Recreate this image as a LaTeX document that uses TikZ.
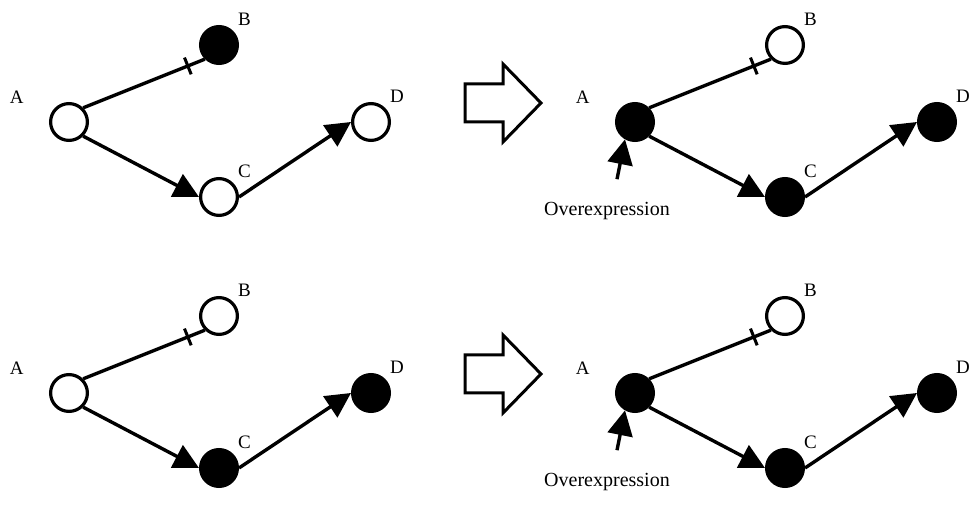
\documentclass[tikz,border=0pt]{standalone}
\usepackage{fontspec}
\setmainfont{Liberation Serif}
\usetikzlibrary{positioning, arrows.meta}
\tikzset{on grid,
         gene/.style={circle, draw, line width=1.6pt, minimum size=18.4pt, inner sep=0pt},
         on/.style={gene, fill=black},
         off/.style={gene, fill=white},
         act/.style={-{Triangle[length=12.5pt, width=12.5pt]}, line width=1.7pt},
         inh/.style={line width=1.7pt},
         bar/.style={draw, sloped, line width=1.5pt, minimum height=9pt, minimum width=0pt, inner sep=0pt},
         every label/.style={font=\fontsize{9.5}{11}\selectfont},
         genename/.style={label={[label distance=10pt]163:#1}},
         genetag/.style={label={[label distance=-1.5pt]45:#1}},
         note/.style={font=\normalsize},
         bigarrow/.style={line width=1.5pt, fill=white, line join=miter},
         }

\begin{document}
\begin{tikzpicture}[x=0.5pt, y=-0.5pt]
    \useasboundingbox (0,0) rectangle (971,523);

    % top row, before
    \node[off, genename=A] (a1) at (69,122) {};
    \node[on,  above right=38.5pt and 75pt of a1, genetag=B] (b1) {};
    \node[off, below right=37.5pt and 75pt of a1, genetag=C] (c1) {};
    \node[off, right=151pt of a1, genetag=D] (d1) {};
    \draw[inh] (a1.north east) -- node[bar, pos=.86]{} (b1.south west);
    \draw[act] (a1.south east) -- (c1.west);
    \draw[act] (c1.east) -- (d1.west);

    % top row, after
    \node[on,  genename=A] (a2) at (635,122) {};
    \node[off, above right=38.5pt and 75pt of a2, genetag=B] (b2) {};
    \node[on,  below right=37.5pt and 75pt of a2, genetag=C] (c2) {};
    \node[on,  right=151pt of a2, genetag=D] (d2) {};
    \node[note, below left=44.5pt and 14pt of a2] (o2) {Overexpression};
    \draw[inh] (a2.north east) -- node[bar, pos=.86]{} (b2.south west);
    \draw[act] (a2.south east) -- (c2.west);
    \draw[act] (c2.east) -- (d2.west);
    \draw[act] ([xshift=5pt, yshift=8pt]o2.north) -- (a2.240);

    % bottom row, before
    \node[off, genename=A] (a3) at (69,393) {};
    \node[off, above right=38.5pt and 75pt of a3, genetag=B] (b3) {};
    \node[on,  below right=37.5pt and 75pt of a3, genetag=C] (c3) {};
    \node[on,  right=151pt of a3, genetag=D] (d3) {};
    \draw[inh] (a3.north east) -- node[bar, pos=.86]{} (b3.south west);
    \draw[act] (a3.south east) -- (c3.west);
    \draw[act] (c3.east) -- (d3.west);

    % bottom row, after
    \node[on,  genename=A] (a4) at (635,393) {};
    \node[off, above right=38.5pt and 75pt of a4, genetag=B] (b4) {};
    \node[on,  below right=37.5pt and 75pt of a4, genetag=C] (c4) {};
    \node[on,  right=151pt of a4, genetag=D] (d4) {};
    \node[note, below left=44.5pt and 14pt of a4] (o4) {Overexpression};
    \draw[inh] (a4.north east) -- node[bar, pos=.86]{} (b4.south west);
    \draw[act] (a4.south east) -- (c4.west);
    \draw[act] (c4.east) -- (d4.west);
    \draw[act] ([xshift=5pt, yshift=8pt]o4.north) -- (a4.240);

    % hollow arrows between the rows
    \foreach \y in {0,271}
        \draw[bigarrow] (465,84+\y) -- (503,84+\y) -- (503,64+\y) -- (541,103+\y)
                        -- (503,142+\y) -- (503,122+\y) -- (465,122+\y) -- cycle;
\end{tikzpicture}
\end{document}
